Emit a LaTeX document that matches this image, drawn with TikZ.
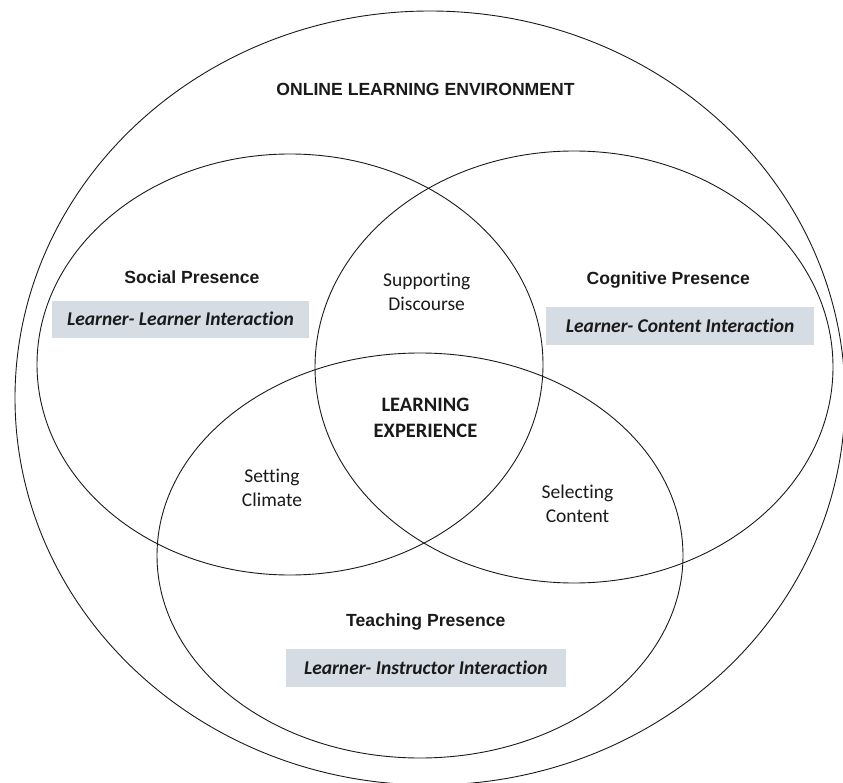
\documentclass[tikz,border=0pt]{standalone}
\usepackage{fontspec}
\setmainfont{Carlito}[Ligatures=NoCommon]
\newfontfamily\arialfont{Liberation Sans}
\usetikzlibrary{shapes.geometric}
\definecolor{boxfill}{HTML}{D6DCE4}
\definecolor{ink}{HTML}{1A1A1A}
\begin{document}
\begin{tikzpicture}[x=1pt,y=-1pt,
  ring/.style={draw=ink, line width=0.9pt, ellipse, inner sep=0pt},
  titletext/.style={font=\arialfont\bfseries\fontsize{17.6}{20}\selectfont, anchor=base, inner sep=0pt, text=ink},
  lbl/.style={font=\fontsize{19.5}{24}\selectfont, align=center, anchor=base, inner sep=0pt, text=ink},
  centrelbl/.style={font=\bfseries\fontsize{20.5}{25.5}\selectfont, align=center, anchor=base, inner sep=0pt, text=ink},
  ibox/.style={fill=boxfill, inner sep=0pt, text height=13pt, text depth=0pt, text=ink,
    font=\bfseries\itshape\fontsize{19.5}{22}\selectfont}
]
\useasboundingbox (0,0) rectangle (843,783);
% ellipses
\node[ring, minimum width=830pt, minimum height=774pt] (env) at (430,398) {};
\node[ring, minimum width=506pt, minimum height=421pt] (social) at (290,364.5) {};
\node[ring, minimum width=518pt, minimum height=432pt] (cognitive) at (574,367) {};
\node[ring, minimum width=526pt, minimum height=405pt] (teaching) at (420,555.5) {};
% titles
\node[titletext] (envt) at (425.5,96) {ONLINE LEARNING ENVIRONMENT};
\node[titletext] (soct) at (192,283.3) {Social Presence};
\node[titletext] (cogt) at (668.3,285) {Cognitive Presence};
\node[titletext] (teat) at (425.8,626.7) {Teaching Presence};
% interaction boxes
\node[ibox, minimum width=257pt, minimum height=37pt] (socb) at (180.5,319.5) {Learner- Learner Interaction};
\node[ibox, minimum width=268.3pt, minimum height=37.7pt] (cogb) at (680.2,326.2) {Learner- Content Interaction};
\node[ibox, minimum width=280.3pt, minimum height=37.4pt] (teab) at (425.8,668) {Learner- Instructor Interaction};
% overlaps (anchor base = baseline of last line)
\node[lbl] (disc) at (426.7,310.7) {Supporting\\Discourse};
\node[lbl] (clim) at (272,506) {Setting\\Climate};
\node[lbl] (cont) at (577.5,522.7) {Selecting\\Content};
\node[centrelbl] (exp) at (425.5,437) {LEARNING\\EXPERIENCE};
\end{tikzpicture}
\end{document}
